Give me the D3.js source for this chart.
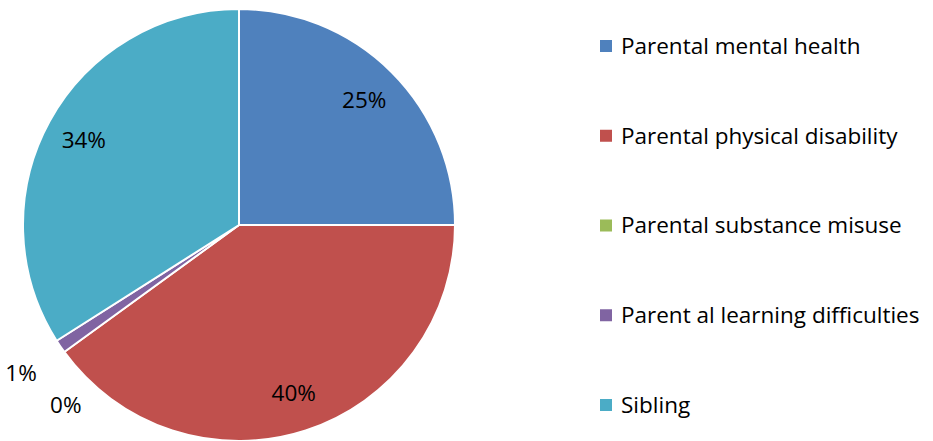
<!DOCTYPE html>
<html>
<head>
<meta charset="utf-8">
<script src="https://cdn.jsdelivr.net/npm/d3@7"></script>
<style>
  body { margin: 0; background: #fff; }
  svg { display: block; font-family: "Open Sans", "Liberation Sans", sans-serif; }
</style>
</head>
<body>
<div id="chart"></div>
<script>
const categorias = ["Parental mental health", "Parental physical disability", "Parental substance misuse", "Parent al learning difficulties", "Sibling"];
const valores = [25, 40, 0, 1, 34];
const colores = ["#4f81bd", "#c0504d", "#9bbb59", "#8064a2", "#4bacc6"];

const width = 933, height = 441;
const cx = 239, cy = 225, radius = 216;
const fontSize = 22.5;

const svg = d3.select("#chart").append("svg").attr("width", width).attr("height", height);
const g = svg.append("g").attr("transform", `translate(${cx}, ${cy})`);

const datos = categorias.map((c, i) => ({ tipo: c, cantidad: valores[i] }));
const total = d3.sum(valores);
const color = d3.scaleOrdinal().domain(categorias).range(colores);
const pie = d3.pie().sort(null).value((d) => d.cantidad)(datos);
const arc = d3.arc().innerRadius(0).outerRadius(radius);

g.selectAll("path").data(pie.filter((d) => d.value > 0)).join("path")
  .attr("d", arc)
  .attr("fill", (d) => color(d.data.tipo))
  .attr("stroke", "#fff")
  .attr("stroke-width", 2)
  .attr("stroke-linejoin", "round");

// etiquetas: dentro para porciones grandes, fuera para las pequeñas
const arcEtiqueta = d3.arc().innerRadius(radius * 0.82).outerRadius(radius * 0.82);
const arcFuera = d3.arc().innerRadius(radius * 1.22).outerRadius(radius * 1.22);
pie.forEach((d) => {
  const pct = Math.round(d.value / total * 100) + "%";
  let x, y;
  if (d.value / total >= 0.05) {
    [x, y] = arcEtiqueta.centroid(d);
  } else if (d.value > 0) {
    [x, y] = arcFuera.centroid(d);
  } else {
    // la etiqueta del 0% se desplaza para no tapar la del 1%
    const [bx, by] = arcFuera.centroid(d);
    x = bx + 40;
    y = by + 25;
  }
  g.append("text")
    .attr("x", x).attr("y", y)
    .attr("text-anchor", "middle").attr("dy", "0.35em")
    .attr("font-size", fontSize).attr("fill", "#000")
    .text(pct);
});

// leyenda
const leyenda = svg.append("g").attr("transform", "translate(600, 0)");
const yLeyenda = d3.scalePoint().domain(categorias).range([46, 405]);
const filas = leyenda.selectAll("g").data(categorias).join("g")
  .attr("transform", (d) => `translate(0, ${yLeyenda(d)})`);
filas.append("rect").attr("x", 0).attr("y", -6).attr("width", 12).attr("height", 12)
  .attr("fill", (d) => color(d));
filas.append("text").attr("x", 21).attr("dy", "0.35em")
  .attr("font-size", fontSize).attr("fill", "#000").text((d) => d);
</script>
</body>
</html>
